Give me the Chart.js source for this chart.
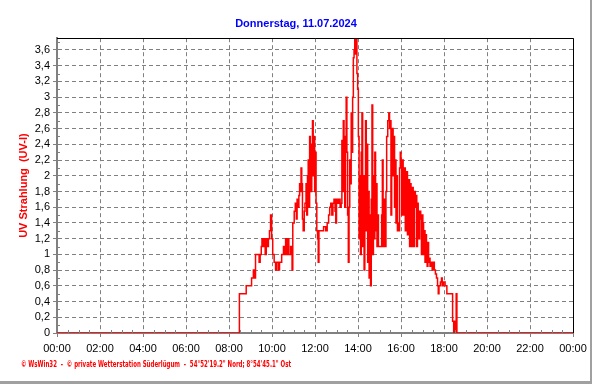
<!DOCTYPE html>
<html>
<head>
<meta charset="utf-8">
<script src="https://cdn.jsdelivr.net/npm/chart.js@4.4.1/dist/chart.umd.min.js"></script>
<style>
  html, body { margin: 0; padding: 0; background: #fff; }
</style>
</head>
<body>
<canvas id="uvChart" width="592" height="384"></canvas>
<script>
// Messzeitpunkte (HH:MM) und UV-Index
const times = [
  "00:00", "08:29", "08:48", "09:03", "09:08", "09:10", "09:14", "09:24", "09:27", "09:30",
  "09:32", "09:35", "09:38", "09:41", "09:44", "09:47", "09:50", "09:53", "09:56", "09:59",
  "10:02", "10:06", "10:10", "10:13", "10:18", "10:21", "10:27", "10:32", "10:35", "10:38",
  "10:41", "10:44", "10:47", "10:52", "10:56", "10:58", "11:02", "11:05", "11:08", "11:10",
  "11:13", "11:15", "11:17", "11:19", "11:21", "11:23", "11:25", "11:27", "11:30", "11:32",
  "11:35", "11:37", "11:39", "11:41", "11:43", "11:45", "11:47", "11:49", "11:51", "11:53",
  "11:55", "11:57", "11:59", "12:01", "12:03", "12:05", "12:07", "12:09", "12:11", "12:24",
  "12:30", "12:34", "12:38", "12:41", "12:44", "12:47", "12:50", "12:53", "12:56", "12:58",
  "13:00", "13:03", "13:06", "13:10", "13:13", "13:15", "13:17", "13:19", "13:21", "13:23",
  "13:25", "13:27", "13:29", "13:31", "13:33", "13:35", "13:37", "13:39", "13:41", "13:43",
  "13:45", "13:47", "13:49", "13:51", "13:53", "13:55", "13:57", "13:59", "14:01", "14:03",
  "14:05", "14:07", "14:09", "14:11", "14:13", "14:15", "14:17", "14:19", "14:21", "14:23",
  "14:25", "14:27", "14:29", "14:31", "14:33", "14:35", "14:37", "14:39", "14:41", "14:43",
  "14:45", "14:47", "14:49", "14:51", "14:53", "14:55", "14:57", "15:06", "15:08", "15:10",
  "15:14", "15:16", "15:18", "15:20", "15:23", "15:26", "15:28", "15:30", "15:32", "15:34",
  "15:36", "15:38", "15:40", "15:42", "15:44", "15:46", "15:48", "15:50", "15:52", "15:54",
  "15:56", "15:58", "16:00", "16:02", "16:04", "16:06", "16:08", "16:10", "16:12", "16:14",
  "16:16", "16:18", "16:20", "16:22", "16:24", "16:26", "16:28", "16:30", "16:32", "16:34",
  "16:36", "16:38", "16:40", "16:42", "16:44", "16:46", "16:48", "16:50", "16:52", "16:55",
  "16:57", "16:59", "17:01", "17:03", "17:05", "17:07", "17:09", "17:11", "17:13", "17:15",
  "17:17", "17:19", "17:21", "17:24", "17:27", "17:30", "17:33", "17:36", "17:39", "17:42",
  "17:44", "17:46", "17:50", "17:53", "17:55", "17:58", "18:03", "18:08", "18:24", "18:27",
  "18:29", "18:32", "18:34", "18:36", "24:00"
];

const uvIndex = [
  0, 0.5, 0.6, 0.7, 0.8, 0.7, 1.0, 0.9, 1.0, 1.1,
  1.2, 1.1, 1.2, 1.0, 1.2, 1.1, 1.2, 1.3, 1.5, 1.2,
  1.0, 0.9, 0.8, 0.9, 0.8, 0.9, 1.0, 1.1, 1.0, 1.2,
  1.0, 1.2, 1.0, 1.1, 0.8, 1.4, 1.55, 1.65, 1.45, 1.7,
  1.6, 1.75, 1.9, 1.8, 2.1, 1.9, 1.45, 1.3, 1.55, 1.65,
  1.9, 1.5, 2.0, 2.2, 1.6, 2.5, 2.1, 1.8, 2.4, 2.7,
  2.0, 2.5, 1.8, 2.3, 1.65, 1.3, 1.2, 0.9, 1.3, 1.35,
  1.3, 1.4, 1.5, 1.6, 1.65, 1.5, 1.65, 1.7, 1.55, 1.4,
  1.7, 1.65, 1.7, 1.6, 1.65, 2.45, 1.8, 2.7, 2.2, 1.6,
  2.5, 3.0, 2.3, 1.5, 0.9, 1.6, 2.2, 1.9, 2.8, 2.3,
  3.0, 3.5, 3.6, 3.8, 3.55, 3.8, 3.3, 3.1, 2.5, 1.2,
  2.0, 1.0, 2.3, 2.8, 1.1, 2.0, 0.8, 1.9, 2.7, 1.3,
  2.4, 0.9, 1.8, 0.7, 1.5, 0.6, 1.7, 2.9, 1.0, 2.0,
  1.2, 2.3, 1.3, 1.9, 1.1, 1.5, 1.1, 1.5, 2.2, 1.1,
  1.7, 1.1, 1.8, 2.5, 2.7, 2.8, 2.6, 2.7, 1.5, 2.3,
  2.6, 2.0, 2.5, 1.6, 2.2, 1.4, 2.0, 1.3, 1.4, 1.3,
  2.1, 2.3, 2.2, 1.5, 2.2, 2.1, 1.5, 2.1, 1.3, 2.0,
  2.05, 1.25, 1.9, 1.95, 1.1, 1.9, 1.8, 1.1, 1.85, 1.75,
  1.1, 1.8, 1.6, 1.75, 1.1, 1.65, 1.5, 1.2, 1.55, 1.45,
  1.0, 1.5, 1.4, 1.0, 1.3, 0.9, 1.25, 1.1, 0.85, 1.15,
  0.9, 0.95, 0.85, 0.9, 0.8, 0.9, 0.8, 0.75, 0.7, 0.6,
  0.5, 0.6, 0.65, 0.7, 0.6, 0.65, 0.6, 0.5, 0.15, 0,
  0.15, 0, 0.5, 0, 0
];

const chartTitle = "Donnerstag, 11.07.2024";
const yTitle = "UV Strahlung  (UV-I)";
const footer = "\u00A9 WsWin32  -  \u00A9 private Wetterstation S\u00FCderl\u00FCgum  -  54\u00B052'19.2\" Nord; 8\u00B054'45.1\" Ost";

function toMinutes(t) {
  const p = t.split(":");
  return parseInt(p[0]) * 60 + parseInt(p[1]);
}

const points = times.map((t, i) => ({ x: toMinutes(t), y: uvIndex[i] }));

// Rahmen oben/rechts, kleine Zwischenstriche, Fusszeile
const framePlugin = {
  id: 'frame',
  afterDraw(chart) {
    const ctx = chart.ctx;
    const a = chart.chartArea;
    const xs = chart.scales.x;
    const ys = chart.scales.y;
    ctx.save();

    ctx.strokeStyle = '#808080';
    ctx.lineWidth = 1;
    ctx.beginPath();
    for (let m = 30; m < 1440; m += 30) {
      if (m % 120 === 0) continue;
      const px = Math.round(xs.getPixelForValue(m)) + 0.5;
      ctx.moveTo(px, a.bottom);
      ctx.lineTo(px, a.bottom - 3);
    }
    for (let v = 0.1; v < 3.75; v += 0.2) {
      const py = Math.round(ys.getPixelForValue(v)) + 0.5;
      ctx.moveTo(a.left, py);
      ctx.lineTo(a.left + 3, py);
    }
    ctx.stroke();

    ctx.strokeStyle = '#000';
    ctx.lineWidth = 1;
    ctx.beginPath();
    ctx.moveTo(a.left, Math.round(a.top) + 0.5);
    ctx.lineTo(Math.round(a.right) + 0.5, Math.round(a.top) + 0.5);
    ctx.lineTo(Math.round(a.right) + 0.5, a.bottom);
    ctx.stroke();

    ctx.fillStyle = '#ff0000';
    ctx.font = "bold 8px 'DejaVu Sans', Verdana, sans-serif";
    ctx.textBaseline = 'middle';
    ctx.fillText(footer, 21, 365, 270);

    ctx.fillStyle = '#a0a0a0';
    ctx.fillRect(590, 0, 2, 384);
    ctx.fillRect(0, 381, 592, 3);
    ctx.restore();
  }
};

new Chart(document.getElementById('uvChart'), {
  type: 'line',
  data: {
    datasets: [{
      label: 'UV',
      data: points,
      borderColor: '#ff0000',
      borderWidth: 1.5,
      pointRadius: 0,
      stepped: true,
      fill: false
    }]
  },
  options: {
    responsive: false,
    animation: false,
    devicePixelRatio: 1,
    layout: { padding: { left: 0, right: 0, top: 0, bottom: 31 } },
    plugins: {
      legend: { display: false },
      tooltip: { enabled: false },
      title: {
        display: true,
        text: chartTitle,
        color: '#0000ff',
        font: { family: "'Liberation Sans', Arial, sans-serif", size: 11, weight: 'bold' },
        padding: { top: 17, bottom: 8 }
      }
    },
    scales: {
      x: {
        type: 'linear',
        min: 0,
        max: 1440,
        afterFit: s => { s.height = 20; s.paddingLeft = 0; s.paddingRight = 0; },
        ticks: {
          stepSize: 120,
          maxRotation: 0,
          padding: 5,
          color: '#000',
          font: { family: "'Liberation Sans', Arial, sans-serif", size: 11 },
          callback: v => {
            const h = Math.floor(v / 60) % 24;
            return (h < 10 ? '0' : '') + h + ':00';
          }
        },
        grid: { color: '#808080', tickLength: 4, lineWidth: 1 },
        border: { color: '#808080', width: 2, dash: [4, 3] }
      },
      y: {
        min: 0,
        max: 3.75,
        afterFit: s => { s.width = 57; s.paddingTop = 0; s.paddingBottom = 0; },
        ticks: {
          stepSize: 0.2,
          includeBounds: false,
          padding: 3,
          color: '#000',
          font: { family: "'Liberation Sans', Arial, sans-serif", size: 11 },
          callback: v => String(Math.round(v * 10) / 10).replace('.', ',')
        },
        grid: { color: '#808080', tickLength: 4, lineWidth: 1 },
        border: { color: '#808080', width: 2, dash: [4, 3] },
        title: {
          display: true,
          text: yTitle,
          color: '#ff0000',
          font: { family: "'Liberation Sans', Arial, sans-serif", size: 11, weight: 'bold' },
          padding: { top: 17, bottom: 0 }
        }
      },
      // leere rechte Achse, damit der Plotbereich bei x=573 endet
      yRight: {
        position: 'right',
        min: 0,
        max: 3.75,
        afterFit: s => { s.width = 19; s.paddingTop = 0; s.paddingBottom = 0; },
        ticks: { display: false },
        grid: { display: false, drawOnChartArea: false },
        border: { display: false }
      }
    }
  },
  plugins: [framePlugin]
});
</script>
</body>
</html>
